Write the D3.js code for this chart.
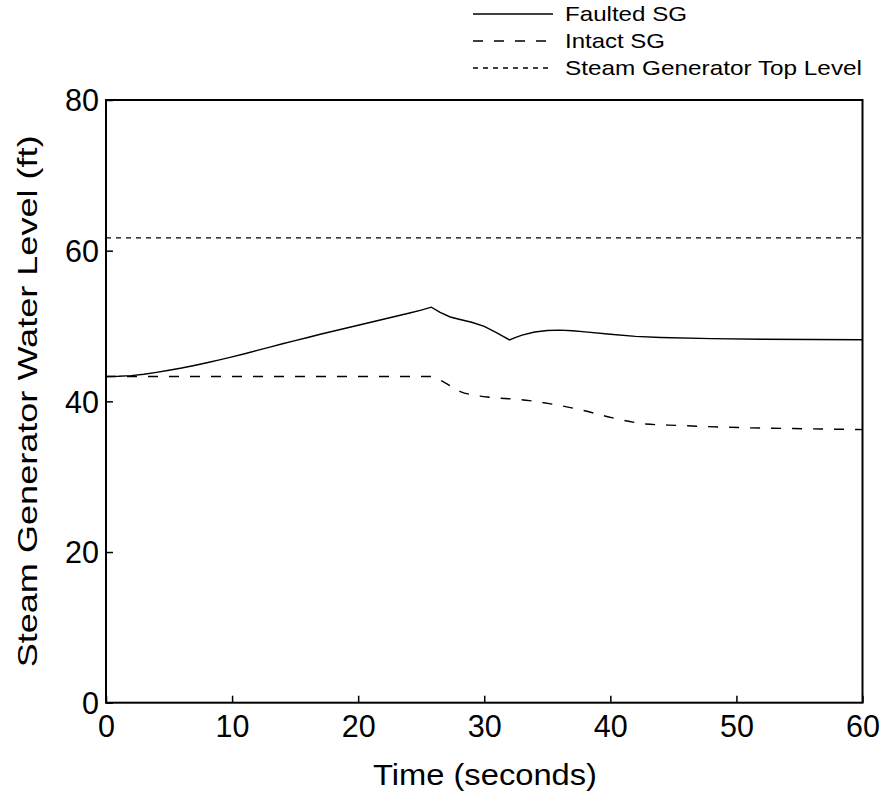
<!DOCTYPE html>
<html><head><meta charset="utf-8">
<script src="https://cdn.jsdelivr.net/npm/d3@7"></script>
<style>body{margin:0;background:#fff;} text{font-family:Arial,"Liberation Sans",sans-serif;fill:#000;}</style>
</head><body>
<svg id="chart" width="884" height="797"></svg>
<script>
const faultedT = [0, 1, 2, 3, 4, 5, 6, 7, 8, 9, 10, 11, 12, 13, 14, 15, 16, 17, 18, 19, 20, 21, 22, 23, 24, 25, 25.8, 26.5, 27.3, 28, 29, 30, 31, 32, 32.5, 33, 34, 35, 36, 37, 38, 40, 42, 44, 48, 52, 56, 60];
const faultedV = [43.3, 43.33, 43.42, 43.6, 43.85, 44.12, 44.42, 44.76, 45.12, 45.5, 45.9, 46.32, 46.76, 47.2, 47.64, 48.06, 48.48, 48.9, 49.3, 49.7, 50.1, 50.5, 50.9, 51.3, 51.7, 52.1, 52.5, 51.8, 51.2, 50.9, 50.5, 49.95, 49.1, 48.15, 48.5, 48.8, 49.2, 49.4, 49.45, 49.38, 49.22, 48.9, 48.62, 48.48, 48.32, 48.25, 48.2, 48.17];
const intactT = [0, 25.7, 26.5, 28.1, 29.7, 30.4, 33.6, 35.5, 37.6, 40.2, 42.8, 45.4, 50.7, 56, 60];
const intactV = [43.3, 43.3, 42.8, 41.3, 40.7, 40.55, 40.1, 39.6, 38.9, 37.8, 37.0, 36.8, 36.5, 36.35, 36.25];
const topLevel = 61.7;
const xTicks = [0, 10, 20, 30, 40, 50, 60];
const yTicks = [0, 20, 40, 60, 80];
const legendLabels = ["Faulted SG", "Intact SG", "Steam Generator Top Level"];
const legendLengths = [122, 100, 297];
const legendDash = [null, "10,11", "5,5"];

const svg = d3.select("#chart");
const x = d3.scaleLinear().domain([0, 60]).range([106, 862.5]);
const y = d3.scaleLinear().domain([0, 80]).range([702.7, 100]);

svg.append("rect").attr("x", x(0)).attr("y", y(80)).attr("width", x(60) - x(0)).attr("height", y(0) - y(80))
  .attr("fill", "none").attr("stroke", "#000").attr("stroke-width", 2);

const xAxis = svg.append("g").attr("transform", `translate(0,${y(0)})`)
  .call(d3.axisBottom(x).tickValues(xTicks).tickSizeInner(-7).tickSizeOuter(0).tickPadding(13));
const yAxis = svg.append("g").attr("transform", `translate(${x(0)},0)`)
  .call(d3.axisLeft(y).tickValues(yTicks).tickSizeInner(-7).tickSizeOuter(0).tickPadding(7));
[xAxis, yAxis].forEach(g => {
  g.select(".domain").remove();
  g.selectAll(".tick line").attr("stroke", "#000").attr("stroke-width", 1.5);
  g.selectAll(".tick text").attr("font-size", 30.5).attr("fill", "#000")
    .attr("font-family", "Arial, 'Liberation Sans', sans-serif");
});
xAxis.selectAll(".tick text").attr("dy", "0.71em");
yAxis.selectAll(".tick text").attr("dy", "0.35em");

const faulted = faultedT.map((t, i) => [t, faultedV[i]]);
const intact = intactT.map((t, i) => [t, intactV[i]]);

svg.append("path").datum(faulted).attr("d", d3.line().x(d => x(d[0])).y(d => y(d[1])))
  .attr("fill", "none").attr("stroke", "#000").attr("stroke-width", 1.4);
svg.append("path").datum(intact).attr("d", d3.line().x(d => x(d[0])).y(d => y(d[1])).curve(d3.curveMonotoneX))
  .attr("fill", "none").attr("stroke", "#000").attr("stroke-width", 1.4).attr("stroke-dasharray", legendDash[1]);
svg.append("line").attr("x1", x(0)).attr("x2", x(60)).attr("y1", y(topLevel)).attr("y2", y(topLevel))
  .attr("stroke", "#000").attr("stroke-width", 1.2).attr("stroke-dasharray", legendDash[2]);

svg.append("text").attr("x", 485).attr("y", 785).attr("text-anchor", "middle").attr("font-size", 29)
  .attr("textLength", 224).attr("lengthAdjust", "spacingAndGlyphs").text("Time (seconds)");
svg.append("text").attr("transform", `translate(37,${(y(0) + y(80)) / 2}) rotate(-90)`)
  .attr("text-anchor", "middle").attr("font-size", 28)
  .attr("textLength", 532).attr("lengthAdjust", "spacingAndGlyphs").text("Steam Generator Water Level (ft)");

const lg = svg.append("g");
legendLabels.forEach((lab, i) => {
  const ly = 14 + i * 27;
  lg.append("line").attr("x1", 473).attr("x2", 553).attr("y1", ly).attr("y2", ly)
    .attr("stroke", "#000").attr("stroke-width", 1.3).attr("stroke-dasharray", legendDash[i]);
  lg.append("text").attr("x", 565).attr("y", ly).attr("dy", "0.35em").attr("font-size", 21)
    .attr("textLength", legendLengths[i]).attr("lengthAdjust", "spacingAndGlyphs").text(lab);
});
</script>
</body></html>
